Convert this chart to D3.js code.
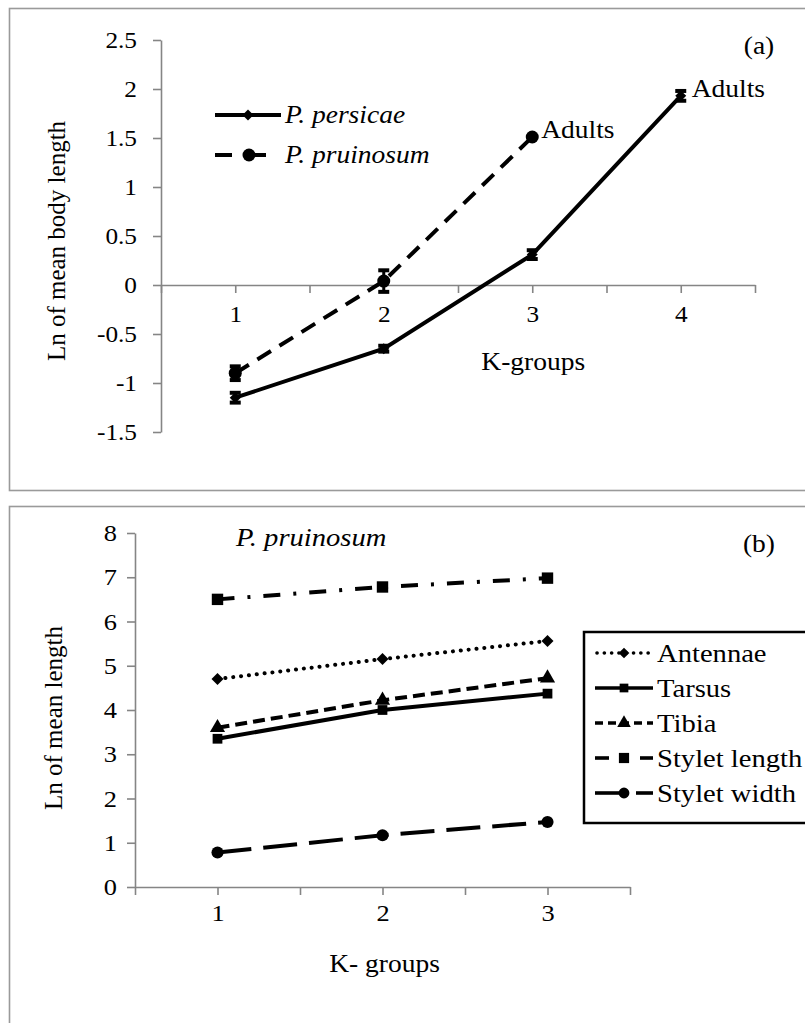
<!DOCTYPE html>
<html>
<head>
<meta charset="utf-8">
<script src="https://cdn.jsdelivr.net/npm/d3@7"></script>
<style>
  html, body { margin: 0; padding: 0; background: #fff; }
  svg { display: block; }
</style>
</head>
<body>
<svg id="fig" width="805" height="1023"></svg>
<script>
// ---- Panel (a): body length by K-group ----
const groupsA = [1, 2, 3, 4];
const persicae = [-1.15, -0.65, 0.31, 1.93];
const persicaeErr = [0.05, 0.03, 0.045, 0.05];
const groupsPru = [1, 2, 3];
const pruinosum = [-0.90, 0.04, 1.51];
const pruinosumErr = [0.07, 0.11, 0.0];
const yTicksA = [-1.5, -1, -0.5, 0, 0.5, 1, 1.5, 2, 2.5];
const xTicksA = [0.5, 1, 1.5, 2, 2.5, 3, 3.5, 4, 4.5];

// ---- Panel (b): appendage lengths of P. pruinosum ----
const groupsB = [1, 2, 3];
const antennae = [4.70, 5.15, 5.56];
const tarsus = [3.35, 4.00, 4.37];
const tibia = [3.60, 4.22, 4.72];
const styletLength = [6.50, 6.78, 6.98];
const styletWidth = [0.78, 1.17, 1.47];
const yTicksB = [0, 1, 2, 3, 4, 5, 6, 7, 8];
const xTicksB = [0.5, 1, 1.5, 2, 2.5, 3, 3.5];

const SERIF = "'Liberation Serif', 'Times New Roman', serif";
const WIDEN = 1.1; // horizontal text widening used throughout the figure
const svg = d3.select("#fig").attr("font-family", SERIF);
const AXIS = "#858585";
const fmt = d => String(d);
const intOnly = d => Number.isInteger(d) ? String(d) : "";

// square rotated 45 degrees
const symbolRhomb = {
  draw(ctx, size) {
    const r = Math.sqrt(size / 2);
    ctx.moveTo(0, -r); ctx.lineTo(r, 0); ctx.lineTo(0, r); ctx.lineTo(-r, 0); ctx.closePath();
  }
};

function widen(sel) {
  sel.each(function () {
    const x = +this.getAttribute("x") || 0;
    d3.select(this).attr("transform", `translate(${x},0) scale(${WIDEN},1) translate(${-x},0)`);
  });
}
function styleAxis(g, size) {
  g.attr("font-family", SERIF);
  g.select(".domain").attr("stroke", AXIS).attr("stroke-width", 1.6);
  g.selectAll(".tick line").attr("stroke", AXIS).attr("stroke-width", 1.6);
  g.selectAll(".tick text").attr("font-size", size).attr("font-family", SERIF).attr("fill", "#000").call(widen);
}
function label(g, x, y, txt, size, opts = {}) {
  const t = g.append("text").attr("x", x).attr("y", y).attr("font-size", size)
    .attr("font-family", SERIF).attr("fill", "#000").text(txt);
  if (opts.anchor) t.attr("text-anchor", opts.anchor);
  if (opts.italic) t.attr("font-style", "italic");
  if (opts.rotate) t.attr("transform", `rotate(-90,${x},${y})`);
  else t.call(widen);
  return t;
}

// panel frames
svg.append("rect").attr("x", 9.5).attr("y", 8.5).attr("width", 830).attr("height", 482)
  .attr("fill", "none").attr("stroke", "#9a9a9a").attr("stroke-width", 1.6);
svg.append("rect").attr("x", 9.5).attr("y", 506.5).attr("width", 830).attr("height", 540)
  .attr("fill", "none").attr("stroke", "#9a9a9a").attr("stroke-width", 1.6);

// ================= Panel (a) =================
const xA = d3.scaleLinear().domain([0.5, 4.5]).range([161, 755]);
const yA = d3.scaleLinear().domain([-1.5, 2.5]).range([432, 40]);
const gA = svg.append("g");

gA.append("g").attr("transform", `translate(${xA(0.5)},0)`)
  .call(d3.axisLeft(yA).tickValues(yTicksA).tickFormat(fmt).tickSize(8).tickSizeOuter(0).tickPadding(16))
  .call(g => styleAxis(g, 23));

gA.append("g").attr("transform", `translate(0,${yA(0)})`)
  .call(d3.axisBottom(xA).tickValues(xTicksA).tickFormat(intOnly).tickSize(8).tickSizeOuter(0).tickPadding(13))
  .call(g => styleAxis(g, 23));

label(gA, 65, 241, "Ln of mean body length", 25, { anchor: "middle", rotate: true });
label(gA, xA(3) + 1, 370, "K-groups", 25, { anchor: "middle" });
label(gA, 759, 54, "(a)", 25, { anchor: "middle" });

const lineA = d3.line().x(d => xA(d[0])).y(d => yA(d[1]));
const perData = groupsA.map((g, i) => [g, persicae[i], persicaeErr[i]]);
const pruData = groupsPru.map((g, i) => [g, pruinosum[i], pruinosumErr[i]]);

gA.append("path").datum(pruData).attr("d", lineA).attr("fill", "none")
  .attr("stroke", "#000").attr("stroke-width", 4).attr("stroke-dasharray", "16,10");
gA.append("path").datum(perData).attr("d", lineA).attr("fill", "none")
  .attr("stroke", "#000").attr("stroke-width", 4);

function errorBars(g, data) {
  data.filter(d => d[2] > 0).forEach(d => {
    const x = xA(d[0]), y1 = yA(d[1] + d[2]), y0 = yA(d[1] - d[2]);
    g.append("line").attr("x1", x).attr("x2", x).attr("y1", y1).attr("y2", y0).attr("stroke", "#000").attr("stroke-width", 3);
    [y0, y1].forEach(y => g.append("line").attr("x1", x - 5.5).attr("x2", x + 5.5).attr("y1", y).attr("y2", y)
      .attr("stroke", "#000").attr("stroke-width", 4));
  });
}
errorBars(gA, perData);
errorBars(gA, pruData);

gA.selectAll(".mper").data(perData).join("path")
  .attr("transform", d => `translate(${xA(d[0])},${yA(d[1])})`)
  .attr("d", d3.symbol(symbolRhomb, 60)).attr("fill", "#000");
gA.selectAll(".mpru").data(pruData).join("circle")
  .attr("cx", d => xA(d[0])).attr("cy", d => yA(d[1])).attr("r", 6.5).attr("fill", "#000");

label(gA, xA(3) + 9, yA(pruinosum[2]) + 1, "Adults", 25);
label(gA, xA(4) + 11, yA(persicae[3]) + 1, "Adults", 25);

// legend (a)
const legA = gA.append("g");
legA.append("line").attr("x1", 215).attr("x2", 281).attr("y1", 115).attr("y2", 115).attr("stroke", "#000").attr("stroke-width", 4);
legA.append("path").attr("transform", "translate(248,115)").attr("d", d3.symbol(symbolRhomb, 60)).attr("fill", "#000");
label(legA, 285, 123, "P. persicae", 25, { italic: true });
legA.append("line").attr("x1", 215).attr("x2", 232).attr("y1", 155).attr("y2", 155).attr("stroke", "#000").attr("stroke-width", 4);
legA.append("line").attr("x1", 250).attr("x2", 266).attr("y1", 155).attr("y2", 155).attr("stroke", "#000").attr("stroke-width", 4);
legA.append("circle").attr("cx", 249).attr("cy", 155).attr("r", 6.5).attr("fill", "#000");
label(legA, 285, 163, "P. pruinosum", 25, { italic: true });

// ================= Panel (b) =================
const xB = d3.scaleLinear().domain([0.5, 3.5]).range([135, 630]);
const yB = d3.scaleLinear().domain([0, 8]).range([887, 533]);
const gB = svg.append("g");

gB.append("g").attr("transform", `translate(${xB(0.5)},0)`)
  .call(d3.axisLeft(yB).tickValues(yTicksB).tickFormat(fmt).tickSize(8).tickSizeOuter(0).tickPadding(10))
  .call(g => styleAxis(g, 24));
gB.append("g").attr("transform", `translate(0,${yB(0)})`)
  .call(d3.axisBottom(xB).tickValues(xTicksB).tickFormat(intOnly).tickSize(8).tickSizeOuter(0).tickPadding(9))
  .call(g => styleAxis(g, 24));

label(gB, 62, 718, "Ln of mean length", 25, { anchor: "middle", rotate: true });
label(gB, xB(2) + 2, 972, "K- groups", 25, { anchor: "middle" });
label(gB, 759, 552, "(b)", 25, { anchor: "middle" });
label(gB, 236, 546, "P. pruinosum", 26, { italic: true });

const seriesB = [
  { name: "Antennae", values: antennae, dash: "0.1,7.8", cap: "round", width: 4, symbol: symbolRhomb, size: 72 },
  { name: "Tarsus", values: tarsus, dash: null, cap: "butt", width: 4, symbol: d3.symbolSquare, size: 95 },
  { name: "Tibia", values: tibia, dash: "12,6", cap: "butt", width: 4, symbol: d3.symbolTriangle, size: 100 },
  { name: "Stylet length", values: styletLength, dash: "17,13,3,13", cap: "butt", width: 4, symbol: d3.symbolSquare, size: 130 },
  { name: "Stylet width", values: styletWidth, dash: "34,12", cap: "butt", width: 4, symbol: d3.symbolCircle, size: 115 }
];

const lineB = d3.line().x((d, i) => xB(groupsB[i])).y(d => yB(d));
seriesB.forEach(s => {
  gB.append("path").datum(s.values).attr("d", lineB).attr("fill", "none")
    .attr("stroke", "#000").attr("stroke-width", s.width).attr("stroke-linecap", s.cap)
    .attr("stroke-dasharray", s.dash);
  gB.selectAll(null).data(s.values).join("path")
    .attr("transform", (d, i) => `translate(${xB(groupsB[i])},${yB(d)})`)
    .attr("d", d3.symbol(s.symbol, s.size)).attr("fill", "#000");
});

// legend (b)
const legB = gB.append("g");
legB.append("rect").attr("x", 584).attr("y", 632).attr("width", 260).attr("height", 191)
  .attr("fill", "#fff").attr("stroke", "#000").attr("stroke-width", 2.5);
seriesB.forEach((s, i) => {
  const y = 653 + i * 35;
  const row = legB.append("g");
  const seg = (x1, x2, dash, cap) => row.append("line").attr("x1", x1).attr("x2", x2).attr("y1", y).attr("y2", y)
    .attr("stroke", "#000").attr("stroke-width", 3.6).attr("stroke-dasharray", dash || null).attr("stroke-linecap", cap || "butt");
  if (s.name === "Antennae") seg(597, 653, "0.1,7.2", "round");
  else if (s.name === "Tarsus") seg(595, 653);
  else if (s.name === "Tibia") seg(595, 653, "8,5");
  else if (s.name === "Stylet length") { seg(595, 609); seg(640, 653); }
  else { seg(595, 621); seg(636, 653); }
  row.append("path").attr("transform", `translate(624,${y})`)
    .attr("d", d3.symbol(s.symbol, s.size * 0.8)).attr("fill", "#000");
  label(row, 657, y + 9, s.name, 26);
});
</script>
</body>
</html>
